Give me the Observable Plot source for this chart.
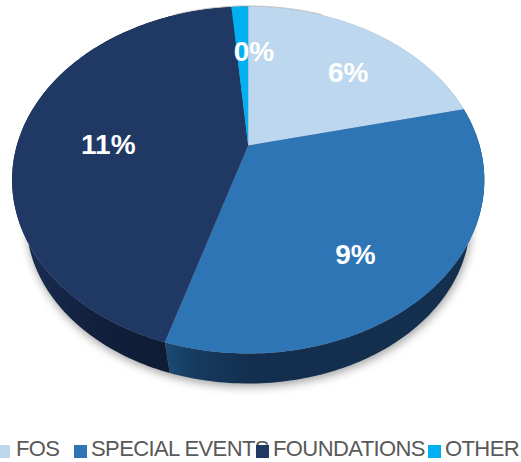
<!DOCTYPE html>
<html><head><meta charset="utf-8">
<script src="https://cdn.jsdelivr.net/npm/d3@7"></script>
<script src="https://cdn.jsdelivr.net/npm/@observablehq/plot@0.6"></script>
<style>
html,body{margin:0;padding:0;background:#fff;overflow:hidden}
#legend{position:relative;height:32px;width:521px;font:22px "Liberation Sans",Arial,sans-serif;letter-spacing:-0.6px;color:#595959}
#legend span{position:absolute;top:3px;line-height:32px;white-space:nowrap}
#legend i{position:absolute;top:15px;width:13px;height:13px}
</style></head><body>
<div id="chart"></div>
<div id="legend"></div>
<script>
const categories = ["FOS", "SPECIAL EVENTS", "FOUNDATIONS", "OTHER"];
const values = [5.55, 8.67, 11.41, 0.36];
const colors = ["#bdd7ee", "#2e75b6", "#1f3864", "#00b0f0"];
const wallFills = ["#7f95a8", "url(#wallBlue)", "url(#wallNavy)", "#0a5a7a"];
const labelShift = [6.5, 7.8, -5.6, 5];
const labelRadius = [0.67, 0.71, 0.605, 0.63];
const legendLeft = [-3, 74, 256, 428];
const legendText = [16, 91, 273, 445];

// perspective view of the disc
const view = {cx: 247.7, cy: 145, a: 231.4, b: 166.6, k: -0.199, rimCy: 180, drop: 220.4, shrink: 0.94};
const project = (deg, r = 1) => {
  const t = deg * Math.PI / 180, X = r * Math.sin(t), Y = -r * Math.cos(t), w = 1 + view.k * Y;
  return [view.cx + view.a * X / w, view.cy + view.b * Y / w];
};
const lower = ([x, y]) => [view.cx + view.shrink * (x - view.cx), view.drop + view.shrink * (y - view.rimCy)];

const total = d3.sum(values);
let run = 0;
const slices = categories.map((category, i) => {
  const start = run; run += values[i] / total * 360;
  return {category, i, start, end: run};
});
const arc = (s) => d3.range(0, 1.0001, 1 / Math.max(2, Math.ceil(s.end - s.start))).map(f => project(s.start + f * (s.end - s.start)));

const tops = slices.flatMap(s => [[view.cx, view.cy], ...arc(s)].map(([x, y]) => ({x, y, category: s.category})));
const walls = slices.map(s => {
  const a = arc(s);
  return [...a, ...a.slice().reverse().map(lower)].map(([x, y]) => ({x, y, category: s.category}));
});
const labels = slices.map(s => {
  const [x, y] = project((s.start + s.end) / 2 + labelShift[s.i], labelRadius[s.i]);
  return {x, y, text: Math.round(values[s.i]) + "%"};
});
const rim = d3.range(0, 361, 2).map(d => project(d));
const shadow = rim.map(lower).map(([x, y]) => ({x: x + 1, y: y + 3}));
const topShadow = d3.range(-22, 24, 2).map(d => project(d)).map(([x, y]) => ({x, y: y - 0.6}));

const defs = () => {
  const svg = d3.create("svg:defs");
  const g1 = svg.append("linearGradient").attr("id", "wallBlue").attr("gradientUnits", "userSpaceOnUse")
    .attr("x1", 165).attr("x2", 470).attr("y1", 0).attr("y2", 0);
  [[0, "#1b4a74"], [0.1, "#163a5e"], [0.3, "#132e4e"], [1, "#14304e"]].forEach(([o, c]) => g1.append("stop").attr("offset", o).attr("stop-color", c));
  const g2 = svg.append("linearGradient").attr("id", "wallNavy").attr("gradientUnits", "userSpaceOnUse")
    .attr("x1", 168).attr("x2", 28).attr("y1", 0).attr("y2", 0);
  [[0, "#0f1c34"], [0.5, "#121f3c"], [1, "#192c52"]].forEach(([o, c]) => g2.append("stop").attr("offset", o).attr("stop-color", c));
  return svg.node();
};

const chart = Plot.plot({
  width: 521, height: 430, margin: 0,
  x: {domain: [0, 521], range: [0, 521], axis: null},
  y: {domain: [0, 430], range: [0, 430], axis: null},
  color: {domain: categories, range: colors},
  marks: [
    defs,
    Plot.line(shadow, {x: "x", y: "y", fill: "#777", stroke: "none", imageFilter: "blur(5px)", fillOpacity: 0.7}),
    Plot.line(topShadow, {x: "x", y: "y", fill: "none", stroke: "#c4c4c4", strokeWidth: 1}),
    ...walls.map((w, i) => Plot.line(w, {x: "x", y: "y", fill: wallFills[i], stroke: "none"})),
    Plot.line(tops, {x: "x", y: "y", z: "category", fill: "category", stroke: "none"}),
    Plot.text(labels, {x: "x", y: "y", text: "text", fill: "white", fontSize: 28, fontWeight: 700, fontFamily: "Liberation Sans, Arial, sans-serif"})
  ]
});
document.getElementById("chart").appendChild(chart);
chart.style.display = "block";

const legend = d3.select("#legend");
categories.forEach((c, i) => {
  legend.append("span").style("left", legendText[i] + "px").text(c);
});
categories.forEach((c, i) => {
  legend.append("i").style("left", legendLeft[i] + "px").style("background", colors[i]);
});
</script>
</body></html>
